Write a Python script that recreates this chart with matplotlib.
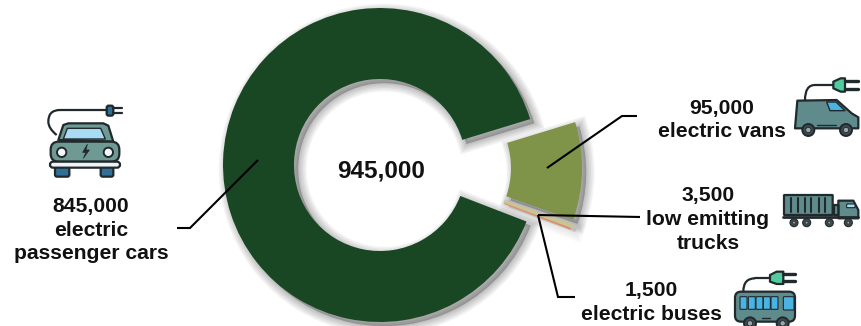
#!/usr/bin/env python3
# -*- coding: utf-8 -*-

import matplotlib
matplotlib.use("Agg")
from matplotlib import pyplot as plt
from matplotlib import patheffects as pe
from matplotlib.patches import Circle, FancyBboxPatch, PathPatch, Polygon
from matplotlib.path import Path

plt.rcParams['font.family'] = ['Liberation Sans', 'DejaVu Sans']

W, H = 862, 326

# counter-clockwise from the vans wedge
segments = ['vans', 'passenger cars', 'buses', 'trucks']
registrations = [95000, 845000, 1500, 3500]
seg_colors = ['#7f9349', '#1a4723', '#e8845c', '#c9c398']
explode = [45, 0, 45, 45]
total = 945000

DARK = '#20292c'
TEAL = '#5f8b8c'
SKY = '#49b3e2'
MINT = '#4fcd9e'
NAVY = '#2f6f98'

fig = plt.figure(figsize=(W / 100, H / 100), dpi=100)
ax = fig.add_axes([0, 0, 1, 1])


def Y(py):
    return H - py


class BlackStroke(pe.Stroke):
    # same as Stroke but fills with black instead of the patch colour
    def draw_path(self, renderer, gc, tpath, affine, rgbFace):
        super().draw_path(renderer, gc, tpath, affine, (0, 0, 0))


wedges, _ = ax.pie(registrations, colors=seg_colors, explode=explode, startangle=-19.2,
                   counterclock=True, radius=157, center=(380, Y(165)), frame=True,
                   wedgeprops=dict(width=71, linewidth=0))
ax.set_xlim(0, W)
ax.set_ylim(0, H)
ax.set_aspect('auto')
ax.axis('off')

# pulled-out pieces sit a little lower than a purely radial shift
wedges[0].set_center((425, Y(168)))
wedges[2].set_center((424, Y(173)))
wedges[3].set_center((424, Y(173)))

# the trucks sliver is only a couple of pixels wide, give it an outline so it reads
wedges[3].set_edgecolor(seg_colors[3])
wedges[3].set_linewidth(1.3)
wedges[3].set_zorder(2)
wedges[2].set_zorder(3)


def soft_shadow(alpha):
    return [BlackStroke(linewidth=lw, foreground='black', alpha=alpha, offset=(3, -3))
            for lw in (12, 9.5, 7, 4.5, 2)] + [pe.Normal()]


# soft drop shadow under the ring, barely any for the thin strip
wedges[0].set_path_effects(soft_shadow(.05))
wedges[1].set_path_effects(soft_shadow(.05))
wedges[3].set_path_effects(soft_shadow(.02))
for w in wedges:
    w.set_clip_on(False)


def leader(xs, ys):
    ax.plot(xs, [Y(v) for v in ys], color='black', lw=1.5, solid_joinstyle='miter',
            solid_capstyle='butt', clip_on=False, zorder=5)


leader([258, 190, 177], [160, 228, 228])
leader([547, 622, 637], [168, 116, 116])
leader([538, 640], [215, 217])
leader([538, 558, 575], [215, 297, 297])


def label(x, y, s):
    ax.text(x, Y(y), s, ha='center', va='center', fontsize=15.2, fontweight='bold',
            color='#111111', linespacing=1.31, zorder=6)


ax.text(381, Y(171), format(total, ','), ha='center', va='center', fontsize=17.5,
        fontweight='bold', color='#111111', zorder=6)
label(91, 230, '845,000\nelectric\npassenger cars')
label(722, 120, '95,000\nelectric vans')
label(708, 219.5, '3,500\nlow emitting\ntrucks')
label(651, 302.5, '1,500\nelectric buses')


class Icon:
    """Small helper: icon parts given in a 3x local grid anchored at a pixel origin."""

    def __init__(self, ox, oy):
        self.ox, self.oy = ox, oy

    def pt(self, x, y):
        return (self.ox + x / 3, Y(self.oy + y / 3))

    def poly(self, pts, fc, lw=1.6):
        ax.add_patch(Polygon([self.pt(*p) for p in pts], closed=True, fc=fc, ec=DARK, lw=lw,
                             joinstyle='round', zorder=7))

    def box(self, x0, y0, x1, y1, fc, lw=1.6, r=6):
        a = self.pt(x0, y1)
        w, h = (x1 - x0) / 3, (y1 - y0) / 3
        ax.add_patch(FancyBboxPatch(a, w, h, boxstyle='round,pad=0,rounding_size=%.2f' % (r / 3),
                                    fc=fc, ec=DARK, lw=lw, zorder=7))

    def disc(self, x, y, r, fc, lw=1.4):
        ax.add_patch(Circle(self.pt(x, y), r / 3, fc=fc, ec=DARK, lw=lw, zorder=8))

    def wire(self, pts, lw=1.6):
        codes = [Path.MOVETO] + [Path.CURVE3] * (len(pts) - 1)
        ax.add_patch(PathPatch(Path([self.pt(*p) for p in pts], codes), fc='none', ec=DARK, lw=lw,
                               zorder=7))

    def line(self, pts, lw=1.6):
        ax.plot(*zip(*[self.pt(*p) for p in pts]), color=DARK, lw=lw, zorder=9,
                solid_capstyle='round')


# car
car = Icon(30, 95)
car.wire([(80, 120), (55, 100), (55, 80), (55, 45), (90, 45)])
car.line([(90, 45), (230, 45)])
car.box(230, 32, 250, 62, NAVY)
car.line([(250, 40), (275, 40)])
car.line([(250, 55), (275, 55)])
car.poly([(85, 135), (100, 90), (115, 85), (220, 85), (235, 92), (250, 140)], '#6f9a94')
car.poly([(100, 132), (112, 100), (212, 100), (226, 132)], '#a8dcf5', lw=1.0)
car.box(75, 215, 118, 245, NAVY)
car.box(212, 215, 250, 245, NAVY)
car.box(62, 140, 268, 200, '#6f9a94', r=24)
car.box(60, 200, 270, 218, '#eef3f8', r=9)
car.disc(95, 172, 14, '#f4f6f8')
car.disc(235, 172, 14, '#f4f6f8')
car.poly([(172, 148), (158, 172), (168, 172), (160, 190), (178, 165), (168, 165)], DARK, lw=.5)

# van
van = Icon(770, 70)
van.wire([(105, 90), (105, 45), (135, 45)])
van.line([(135, 45), (190, 45)])
van.poly([(190, 35), (212, 25), (225, 25), (225, 65), (212, 65), (190, 55)], MINT)
van.line([(225, 32), (265, 32)], lw=2.4)
van.line([(225, 58), (265, 58)], lw=2.4)
van.poly([(82, 92), (200, 90), (245, 130), (265, 142), (265, 175), (75, 175)], TEAL)
van.poly([(170, 96), (198, 96), (225, 122), (180, 122)], SKY, lw=1.0)
van.line([(142, 165), (198, 165)], lw=1)
van.disc(115, 180, 18, '#3f4a4e')
van.disc(115, 180, 8, '#9aa7aa', lw=.6)
van.disc(228, 180, 18, '#3f4a4e')
van.disc(228, 180, 8, '#9aa7aa', lw=.6)

# truck
truck = Icon(770, 70)
truck.box(42, 375, 188, 435, TEAL, r=2)
for sx in (62, 84, 104, 124, 146, 166):
    truck.line([(sx, 385), (sx, 425)], lw=1.5)
truck.line([(40, 442), (265, 442)], lw=2)
truck.poly([(205, 392), (250, 392), (265, 420), (265, 445), (205, 445)], TEAL)
truck.box(192, 405, 205, 435, TEAL, r=1)
truck.box(230, 402, 255, 413, '#a9ddf0', lw=.8, r=1)
for wx in (72, 110, 178, 235):
    truck.disc(wx, 458, 12, '#3f4a4e', lw=.8)
    truck.disc(wx, 458, 4, '#9aa7aa', lw=.4)

# bus
bus = Icon(720, 260)
bus.wire([(70, 95), (70, 55), (105, 55)])
bus.line([(105, 55), (150, 55)])
bus.poly([(150, 45), (170, 35), (190, 35), (190, 72), (170, 72), (150, 65)], MINT)
bus.line([(190, 42), (225, 42)], lw=2.4)
bus.line([(190, 62), (225, 62)], lw=2.4)
bus.box(45, 95, 225, 185, TEAL, r=18)
for wx in (60, 85, 108, 130, 153):
    bus.box(wx, 110, wx + 21, 148, SKY, lw=.8, r=2)
bus.box(190, 110, 222, 150, SKY, lw=.8, r=3)
bus.line([(125, 175), (150, 175)], lw=1)
bus.disc(90, 190, 18, '#3f4a4e')
bus.disc(90, 190, 8, '#9aa7aa', lw=.6)
bus.disc(188, 190, 18, '#3f4a4e')
bus.disc(188, 190, 8, '#9aa7aa', lw=.6)

ax.set_xlim(0, W)
ax.set_ylim(0, H)
fig.savefig('out.png', dpi=100, facecolor='white')
